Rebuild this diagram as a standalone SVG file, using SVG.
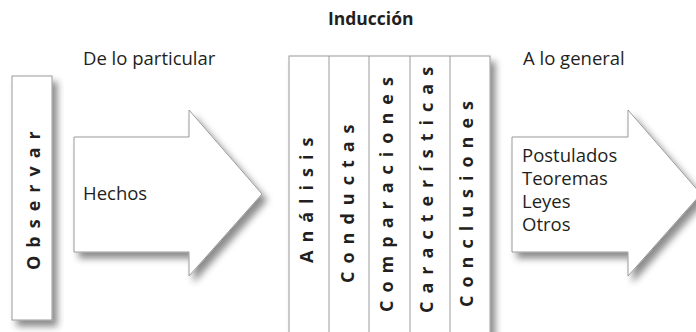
<svg xmlns="http://www.w3.org/2000/svg" width="696" height="332" viewBox="0 0 696 332">
<style>
.t{font-family:"Open Sans","Noto Sans",sans-serif;font-size:18.5px;fill:#231f20}
.b{font-weight:bold;font-size:17.5px}
.v{font-family:"Open Sans","Noto Sans",sans-serif;font-size:18px;font-weight:bold;fill:#231f20;letter-spacing:8px}
.box{fill:#fff;stroke:#9a9a9a;stroke-width:1}
.sep{stroke:#9a9a9a;stroke-width:1;fill:none}
</style>
<defs>
<filter id="sh" x="-20%" y="-20%" width="150%" height="150%">
<feDropShadow dx="5" dy="6" stdDeviation="3.5" flood-color="#000" flood-opacity="0.45"/>
</filter>
</defs>
<g id="title"><text class="t b" x="328" y="25">Inducción</text></g>
<g id="label-particular"><text class="t" x="83" y="65">De lo particular</text></g>
<g id="label-general"><text class="t" x="523" y="65">A lo general</text></g>
<g id="observar">
<rect class="box" x="12" y="76" width="40" height="244" filter="url(#sh)"/>
<text class="v" transform="translate(40,270) rotate(-90)">Observar</text>
</g>
<g id="hechos">
<polygon class="box" points="74,137 189,137 189,110 262,194 189,276 189,252 74,252" filter="url(#sh)"/>
<text class="t" x="83" y="200">Hechos</text>
</g>
<g id="induccion-columns">
<rect class="box" x="289" y="56" width="201" height="290" filter="url(#sh)"/>
<path class="sep" d="M329,56V332M369,56V332M410,56V332M450,56V332"/>
<text class="v" transform="translate(313,263) rotate(-90)">Análisis</text>
<text class="v" transform="translate(354,283) rotate(-90)">Conductas</text>
<text class="v" transform="translate(393,312) rotate(-90)">Comparaciones</text>
<text class="v" transform="translate(433,313) rotate(-90)">Características</text>
<text class="v" transform="translate(473,307) rotate(-90)">Conclusiones</text>
</g>
<g id="general">
<polygon class="box" points="512,137 628,137 628,110 701,194 628,276 628,252 512,252" filter="url(#sh)"/>
<text class="t" x="522" y="162">Postulados</text>
<text class="t" x="522" y="185">Teoremas</text>
<text class="t" x="522" y="208">Leyes</text>
<text class="t" x="522" y="231">Otros</text>
</g>
<g id="connectors"></g>
</svg>
